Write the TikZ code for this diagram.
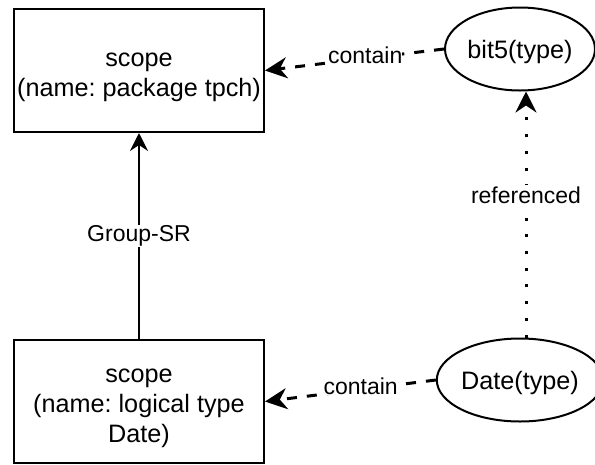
\documentclass[tikz,border=0pt]{standalone}
\usepackage{fontspec}
\setmainfont{Liberation Sans}
\usetikzlibrary{arrows.meta,shapes.geometric}
\frenchspacing
\newcommand\boxlow{\rule{0pt}{28pt}}
\newcommand\ovallow{\rule{0pt}{24pt}}
\tikzset{
  box/.style={draw, line width=2pt, minimum width=250pt, minimum height=123pt, align=center, inner sep=0pt, font=\fontsize{25.2}{30}\selectfont},
  oval/.style={draw, ellipse, line width=2pt, minimum width=150pt, minimum height=83pt, inner sep=0pt, font=\fontsize{25.2}{30}\selectfont},
  lbl/.style={fill=white, inner sep=0pt, font=\fontsize{23}{27}\selectfont},
  containline/.style={-{Stealth[length=22pt,width=21pt,inset=7pt]}, line width=3pt, dash pattern=on 10pt off 10pt},
  refline/.style={-{Stealth[length=21pt,width=21pt,inset=7pt]}, line width=3pt, dash pattern=on 3pt off 13.7pt},
  solidline/.style={-{Stealth[length=18pt,width=18pt,inset=6pt]}, line width=2pt}
}
\begin{document}
\begin{tikzpicture}[x=1pt,y=-1pt]
\useasboundingbox (0,0) rectangle (595,464);
\node[box] (b1) at (139,70.5) {\boxlow scope\\(name: package tpch)};
\node[box] (b2) at (139,401.5) {\boxlow scope\\(name: logical type\\Date)};
\node[oval] (e1) at (520,49) {\ovallow bit5(type)};
\node[oval] (e2) at (520,380) {\ovallow Date(type)};
\draw[containline] (e1.west) -- node[lbl, pos=0.44, yshift=3pt] {contain} (b1.east);
\draw[containline] (e2.west) -- node[lbl, pos=0.44, yshift=3pt] {contain} (b2.east);
\draw[solidline] (b2.north) -- node[lbl, inner sep=1pt] (gl) {Group-SR} (b1.south);
\draw[refline] ([xshift=6pt]e2.north) -- node[lbl, inner sep=1pt, pos=0.58] {referenced} ([xshift=6pt]e1.south);
\end{tikzpicture}
\end{document}
